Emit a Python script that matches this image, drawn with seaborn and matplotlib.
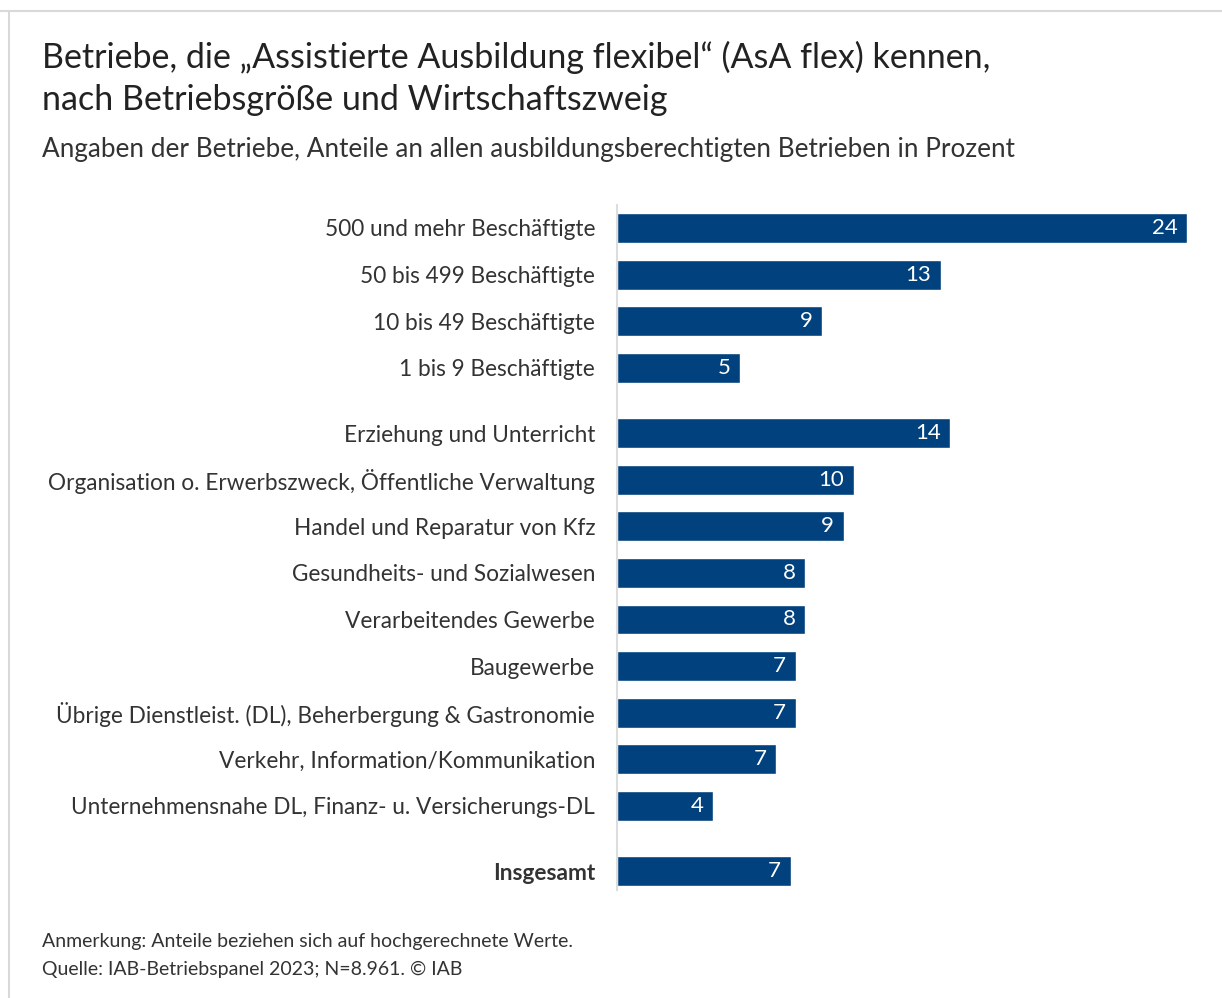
import matplotlib
matplotlib.use("Agg")
import matplotlib.pyplot as plt
from matplotlib.lines import Line2D
import seaborn as sns
import pandas as pd

# categories, values and the printed labels
categories = [
    "500 und mehr Beschäftigte",
    "50 bis 499 Beschäftigte",
    "10 bis 49 Beschäftigte",
    "1 bis 9 Beschäftigte",
    "Erziehung und Unterricht",
    "Organisation o. Erwerbszweck, Öffentliche Verwaltung",
    "Handel und Reparatur von Kfz",
    "Gesundheits- und Sozialwesen",
    "Verarbeitendes Gewerbe",
    "Baugewerbe",
    "Übrige Dienstleist. (DL), Beherbergung & Gastronomie",
    "Verkehr, Information/Kommunikation",
    "Unternehmensnahe DL, Finanz- u. Versicherungs-DL",
    "Insgesamt",
]
values = [23.6, 13.4, 8.5, 5.1, 13.8, 9.8, 9.4, 7.8, 7.8, 7.4, 7.4, 6.6, 4.0, 7.2]
shown = ["24", "13", "9", "5", "14", "10", "9", "8", "8", "7", "7", "7", "4", "7"]
groups = [0, 0, 0, 0, 1, 1, 1, 1, 1, 1, 1, 1, 1, 2]

BLUE = "#00417e"
TEXT = "#333333"
FONT = "Lato"

# rows sit one unit apart, with a small extra gap between groups
gap = 0.4
pos = [i + gap * g for i, g in enumerate(groups)]
df = pd.DataFrame({"cat": categories, "val": values, "pos": pos})

sns.set_style("white")
plt.rcParams["font.family"] = [FONT, "DejaVu Sans"]

fig = plt.figure(figsize=(12.22, 9.98), dpi=100)
ax = fig.add_axes([616.7 / 1222, 0.1085, (1200 - 616.7) / 1222, 0.7949 - 0.1085])

sns.barplot(data=df, x="val", y="pos", orient="y", native_scale=True,
            color=BLUE, saturation=1, width=0.64, ax=ax)

ax.set_xlim(0, 583.3 / 24.17)
ax.set_ylim(max(pos) + 0.4, -0.5)
ax.set_yticks(pos)
ax.set_yticklabels(categories, fontsize=16.3, color=TEXT)
ax.get_yticklabels()[-1].set_fontweight("bold")
ax.tick_params(axis="y", length=0, pad=15.5)
ax.set_xticks([])
ax.set_xlabel("")
ax.set_ylabel("")
for s in ["top", "right", "bottom"]:
    ax.spines[s].set_visible(False)
ax.spines["left"].set_color("#dddddd")
ax.spines["left"].set_linewidth(1.5)

for v, p, t in zip(values, pos, shown):
    ax.annotate(t, xy=(v, p), xytext=(-7, 0), textcoords="offset points",
                ha="right", va="center", color="white", fontsize=16)

# titles
fig.text(42 / 1222, 1 - 57 / 998, "Betriebe, die „Assistierte Ausbildung flexibel“ (AsA flex) kennen,",
         fontsize=24.5, color="#222222", va="center")
fig.text(42 / 1222, 1 - 100 / 998, "nach Betriebsgröße und Wirtschaftszweig",
         fontsize=24.5, color="#222222", va="center")
fig.text(42 / 1222, 1 - 150 / 998,
         "Angaben der Betriebe, Anteile an allen ausbildungsberechtigten Betrieben in Prozent",
         fontsize=18.8, color=TEXT, va="center")

# footer
fig.text(42 / 1222, 1 - 941 / 998, "Anmerkung: Anteile beziehen sich auf hochgerechnete Werte.",
         fontsize=14, color=TEXT, va="center")
fig.text(42 / 1222, 1 - 969 / 998, "Quelle: IAB-Betriebspanel 2023; N=8.961. © IAB",
         fontsize=14, color=TEXT, va="center")

# card border (top and left edge only)
fig.add_artist(Line2D([0, 1], [1 - 11 / 998, 1 - 11 / 998], color="#d9d9d9", lw=1.5))
fig.add_artist(Line2D([9 / 1222, 9 / 1222], [0, 1 - 11 / 998], color="#d9d9d9", lw=1.5))

fig.savefig("out.png", dpi=100)
